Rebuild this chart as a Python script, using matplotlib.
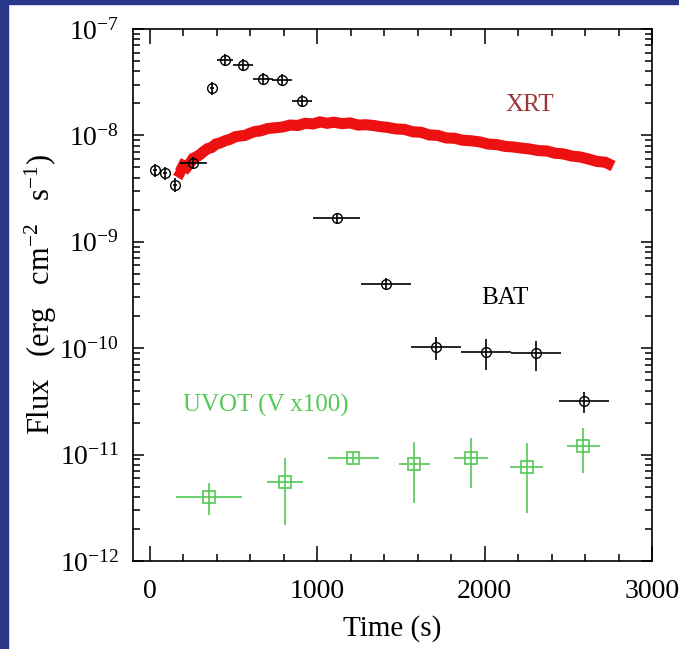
import matplotlib
matplotlib.use("Agg")
from matplotlib import pyplot as plt
from matplotlib.ticker import LogLocator, LogFormatterMathtext, MultipleLocator, NullFormatter
import numpy as np

plt.rcParams['font.family'] = ['Liberation Serif', 'DejaVu Serif']
plt.rcParams['mathtext.fontset'] = 'custom'
plt.rcParams['mathtext.rm'] = 'Liberation Serif'
plt.rcParams['mathtext.it'] = 'Liberation Serif:italic'

# BAT light curve
bat_t = [30, 93, 153, 260, 374, 450, 557, 677, 792, 912, 1117, 1410, 1708, 2007, 2308, 2596]
bat_dt = [12, 12, 12, 80, 12, 50, 60, 60, 60, 60, 140, 150, 150, 150, 150, 150]
bat_flux = [4.73e-9, 4.4e-9, 3.42e-9, 5.55e-9, 2.77e-8, 5.12e-8, 4.59e-8, 3.37e-8,
            3.32e-8, 2.1e-8, 1.66e-9, 3.98e-10, 1.03e-10, 9.27e-11, 9.07e-11, 3.19e-11]
bat_lo = [4.1e-9, 3.8e-9, 2.95e-9, 4.9e-9, 2.4e-8, 4.5e-8, 4.0e-8, 2.95e-8,
          2.9e-8, 1.84e-8, 1.48e-9, 3.5e-10, 7.7e-11, 6.2e-11, 6.1e-11, 2.44e-11]
bat_hi = [5.4e-9, 5.0e-9, 3.95e-9, 6.3e-9, 3.2e-8, 5.8e-8, 5.2e-8, 3.85e-8,
          3.8e-8, 2.4e-8, 1.86e-9, 4.55e-10, 1.28e-10, 1.21e-10, 1.17e-10, 3.85e-11]

# XRT light curve
xrt_t = [157, 180, 200, 220, 241, 260, 280, 300, 318, 345, 370, 395, 420, 450,
         480, 510, 539, 570, 600, 630, 659, 705, 750, 795, 838, 885, 930, 975,
         1017, 1060, 1100, 1150, 1196, 1245, 1290, 1335, 1376, 1420, 1470, 1520,
         1573, 1620, 1670, 1720, 1770, 1820, 1870, 1920, 1974, 2020, 2070, 2120,
         2171, 2220, 2270, 2320, 2374, 2420, 2470, 2520, 2571, 2620, 2670, 2720, 2768]
xrt_flux = [4.73e-9, 4.5e-9, 5.2e-9, 5.0e-9, 5.51e-9, 6.1e-9, 6.3e-9, 6.6e-9,
            6.98e-9, 7.5e-9, 7.7e-9, 8.3e-9, 8.49e-9, 8.9e-9, 9.2e-9, 9.7e-9,
            9.87e-9, 1.0e-8, 1.05e-8, 1.09e-8, 1.10e-8, 1.16e-8, 1.18e-8, 1.2e-8,
            1.25e-8, 1.24e-8, 1.3e-8, 1.28e-8, 1.34e-8, 1.3e-8, 1.33e-8, 1.29e-8,
            1.31e-8, 1.25e-8, 1.26e-8, 1.24e-8, 1.21e-8, 1.19e-8, 1.15e-8, 1.14e-8,
            1.08e-8, 1.07e-8, 1.01e-8, 1.0e-8, 9.46e-9, 9.4e-9, 9.0e-9, 8.9e-9,
            8.67e-9, 8.3e-9, 8.2e-9, 7.9e-9, 7.78e-9, 7.6e-9, 7.45e-9, 7.2e-9,
            7.13e-9, 6.8e-9, 6.7e-9, 6.4e-9, 6.27e-9, 6.0e-9, 5.7e-9, 5.6e-9, 5.15e-9]

# UVOT V band (scaled x100)
uvot_t = [354, 808, 1216, 1581, 1919, 2252, 2590]
uvot_dt = [200, 105, 152, 95, 100, 98, 100]
uvot_flux = [4.02e-12, 5.57e-12, 9.35e-12, 8.16e-12, 9.35e-12, 7.69e-12, 1.2e-11]
uvot_lo = [2.7e-12, 2.18e-12, 8.3e-12, 3.48e-12, 4.82e-12, 2.81e-12, 6.67e-12]
uvot_hi = [5.37e-12, 9.23e-12, 1.05e-11, 1.32e-11, 1.42e-11, 1.28e-11, 1.77e-11]

fig = plt.figure(figsize=(6.79, 6.49), dpi=100)
fig.patch.set_facecolor('white')
# dark blue slide edges
fig.add_artist(plt.Rectangle((0, 0), 8 / 679, 1, transform=fig.transFigure,
                             color='#29378a', zorder=0))
fig.add_artist(plt.Rectangle((0, 1 - 4 / 649), 1, 4 / 649, transform=fig.transFigure,
                             color='#29378a', zorder=0))

ax = fig.add_axes([133 / 679, 1 - 561 / 649, (652 - 133) / 679, (561 - 29) / 649])

green = '#55c955'

ax.plot(xrt_t, xrt_flux, color='#ee1111', lw=8, solid_capstyle='butt',
        solid_joinstyle='miter', zorder=2)

bf = np.array(bat_flux)
ax.errorbar(bat_t, bat_flux, xerr=bat_dt,
            yerr=[bf - np.array(bat_lo), np.array(bat_hi) - bf],
            fmt='o', mfc='none', mec='black', ms=7, mew=1.0,
            ecolor='black', elinewidth=1.2, capsize=0, zorder=3)

uf = np.array(uvot_flux)
ax.errorbar(uvot_t, uvot_flux, xerr=uvot_dt,
            yerr=[uf - np.array(uvot_lo), np.array(uvot_hi) - uf],
            fmt='s', mfc='none', mec=green, ms=9, mew=1.2,
            ecolor=green, elinewidth=1.2, capsize=0, zorder=3)

ax.text(2272, 1.93e-8, 'XRT', color='#9e3434', fontsize=18, ha='center', va='center')
ax.text(2122, 2.96e-10, 'BAT', color='black', fontsize=18, ha='center', va='center')
ax.text(200, 2.92e-11, 'UVOT (V x100)', color=green, fontsize=18, ha='left', va='center')

ax.set_yscale('log')
ax.set_xlim(-100, 3000)
ax.set_ylim(1e-12, 1e-7)

ax.xaxis.set_major_locator(MultipleLocator(1000))
ax.xaxis.set_minor_locator(MultipleLocator(200))
ax.yaxis.set_major_locator(LogLocator(base=10))
ax.yaxis.set_minor_locator(LogLocator(base=10, subs=np.arange(2, 10)))
ax.yaxis.set_major_formatter(LogFormatterMathtext())
ax.yaxis.set_minor_formatter(NullFormatter())

ax.tick_params(which='both', direction='in', top=True, right=True, colors='black',
               labelsize=20, width=1.1)
ax.tick_params(axis='x', which='major', length=11, pad=13)
ax.tick_params(axis='x', which='minor', length=5)
ax.tick_params(axis='y', which='major', length=8, pad=10)
ax.tick_params(axis='y', which='minor', length=5)
for s in ax.spines.values():
    s.set_linewidth(1.2)

ax.set_xlabel('Time (s)', fontsize=21, labelpad=8)
ax.set_ylabel(r'Flux   (erg   cm$^{-2}$   s$^{-1}$)', fontsize=22, labelpad=0)

fig.savefig('out.png', dpi=100)
